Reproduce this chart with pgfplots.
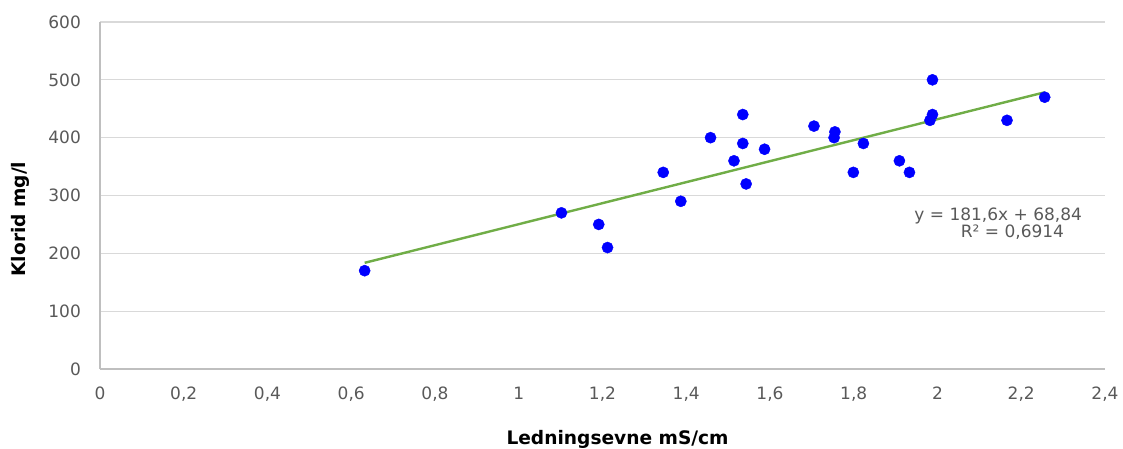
\documentclass[border=0pt]{standalone}
\usepackage{fontspec}
\setmainfont{DejaVu Sans}
\usepackage{pgfplots}
\pgfplotsset{compat=1.18}
\definecolor{tickgray}{HTML}{595959}
\definecolor{gridgray}{HTML}{D9D9D9}
\definecolor{axgray}{HTML}{BFBFBF}
\definecolor{trend}{HTML}{70AD47}
\begin{document}
\begin{tikzpicture}
\path[use as bounding box] (0,0) rectangle (1123pt,448pt);
\begin{axis}[
  at={(100pt,79pt)}, anchor=south west,
  width=1005pt, height=347pt, scale only axis,
  xmin=0, xmax=2.4, ymin=0, ymax=600,
  xtick={0,0.2,0.4,0.6,0.8,1,1.2,1.4,1.6,1.8,2,2.2,2.4},
  ytick={0,100,200,300,400,500,600},
  axis lines=left,
  axis line style={-, draw=axgray, line width=1.3pt},
  tick style={draw=none},
  ymajorgrids,
  grid style={draw=gridgray, line width=1.3pt},
  /pgf/number format/assume math mode=true,
  /pgf/number format/use comma,
  /pgf/number format/fixed,
  /pgf/number format/precision=1,
  tick label style={font=\fontsize{17}{20}\selectfont, text=tickgray},
  yticklabel style={xshift=-13.5pt},
  xticklabel style={yshift=-12pt},
  xlabel={Ledningsevne mS/cm},
  ylabel={Klorid mg/l},
  label style={font=\fontsize{18.6}{22}\selectfont\bfseries, text=black},
  xlabel style={at={(axis description cs:0.515,-0.202)}, anchor=center},
  ylabel style={at={(axis description cs:-0.0796,0.432)}, anchor=center},
  clip=false,
]
\addplot[only marks, mark=*, mark size=5.6pt, mark options={draw=blue, fill=blue}] coordinates {
(0.632,170) (1.102,270) (1.191,250) (1.212,210) (1.345,340) (1.387,290)
(1.458,400) (1.514,360) (1.535,440) (1.535,390) (1.543,320) (1.587,380)
(1.705,420) (1.755,410) (1.753,400) (1.799,340) (1.823,390) (1.909,360)
(1.933,340) (1.982,430) (1.988,440) (1.988,500) (2.166,430) (2.256,470)
};
\addplot[trend, line width=2.4pt] coordinates {(0.632,183.6) (2.256,478.5)};
\node[anchor=base, text=tickgray, font=\fontsize{17}{20}\selectfont] at (axis cs:2.145,256.5) {y = 181,6x + 68,84};
\node[anchor=base, text=tickgray, font=\fontsize{17}{20}\selectfont] at (axis cs:2.179,227.5) {R² = 0,6914};
\end{axis}
\end{tikzpicture}
\end{document}
